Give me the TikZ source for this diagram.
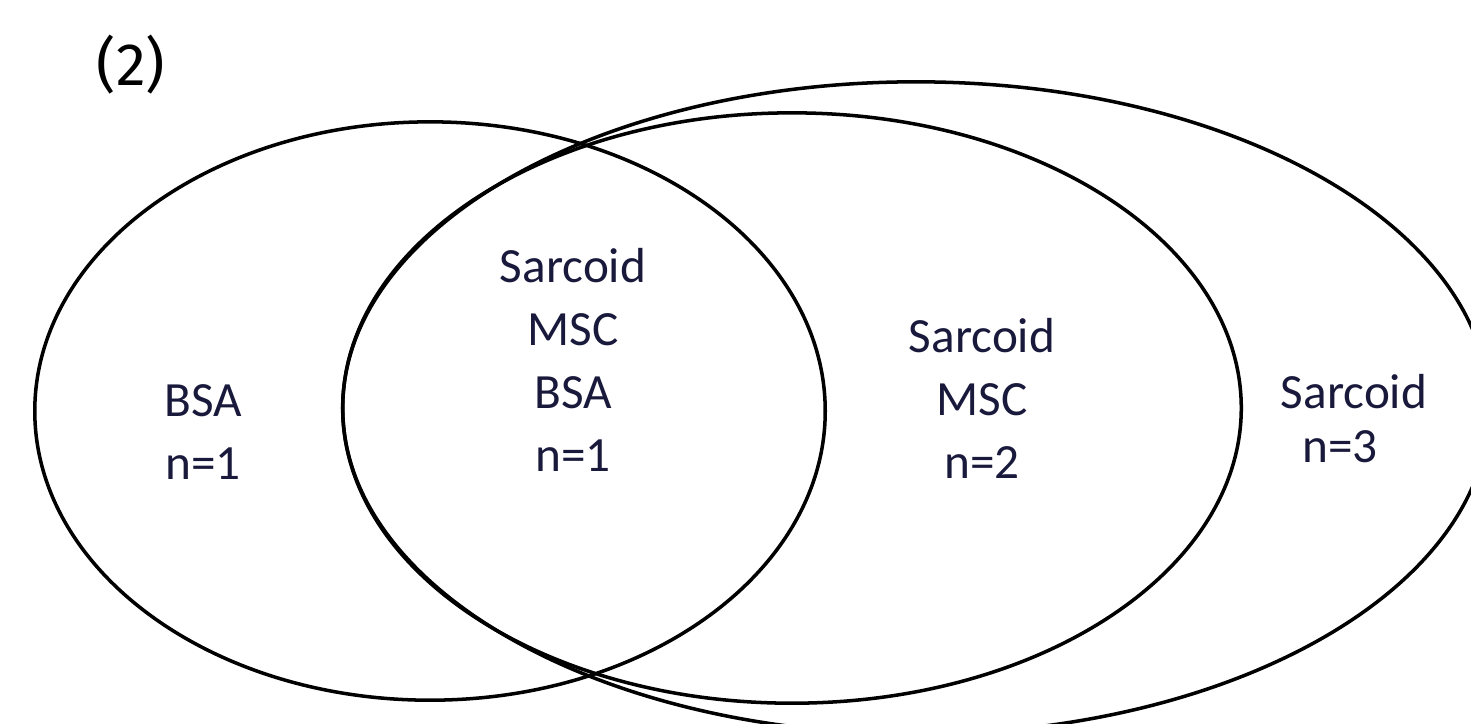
\documentclass[tikz,border=0pt]{standalone}
\usepackage{fontspec}
\setmainfont{Carlito}
\newfontfamily\tagfont{Fira Sans}
\definecolor{txt}{RGB}{25,25,60}
\begin{document}
\begin{tikzpicture}[x=0.01cm,y=-0.01cm,
  setline/.style={line width=1pt, draw=black},
  lbl/.style={text=txt, font=\fontsize{14}{17.9}\selectfont, align=center, inner sep=0pt}]
\useasboundingbox (0,0) rectangle (1471,723);
\begin{scope}
  \clip (0,0) rectangle (1471,723);
  \draw[setline] (430,411) ellipse [x radius=3.95cm, y radius=2.89cm];
  \draw[setline] (792,408) ellipse [x radius=4.49cm, y radius=2.95cm];
  \draw[setline] (916,408) ellipse [x radius=5.73cm, y radius=3.26cm];
\end{scope}
\node[font=\tagfont\fontsize{17}{20}\selectfont, inner sep=0pt] (tag) at (131,65) {(2)};
\node[lbl] (bsa) at (203,432) {BSA\\n=1};
\node[lbl] (all) at (573,360) {Sarcoid\\MSC\\BSA\\n=1};
\node[lbl] (sm) at (982,398) {Sarcoid\\MSC\\n=2};
\node[lbl] (s) at (1354,392) {Sarcoid};
\node[lbl] (n3) at (1340,447) {n=3};
\end{tikzpicture}
\end{document}
